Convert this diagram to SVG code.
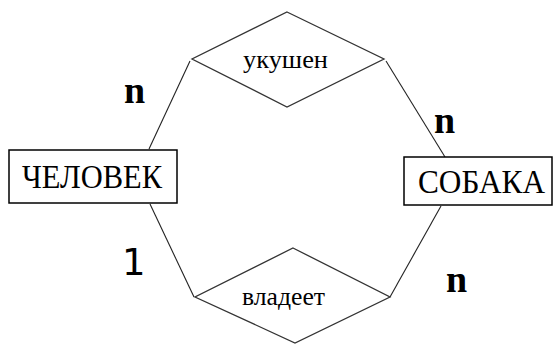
<svg xmlns="http://www.w3.org/2000/svg" width="556" height="347" viewBox="0 0 556 347">
<style>
.box{fill:#fff;stroke:#000;stroke-width:1.5}
.dia{fill:#fff;stroke:#333;stroke-width:1.3}
.ln{stroke:#222;stroke-width:1.1;fill:none}
.ent{font-family:"Liberation Serif",serif;font-size:34px;fill:#000}
.rel{font-family:"Liberation Serif",serif;font-size:25px;fill:#000}
.card{font-family:"Liberation Serif",serif;font-size:38px;font-weight:bold;fill:#000}
.one{font-family:"DejaVu Sans",sans-serif;font-size:37px;fill:#000}
</style>
<rect width="556" height="347" fill="#fff"/>
<g id="connectors">
<line class="ln" x1="190" y1="61" x2="149" y2="149"/>
<line class="ln" x1="386" y1="61" x2="445" y2="157"/>
<line class="ln" x1="150" y1="204" x2="194" y2="297"/>
<line class="ln" x1="441" y1="206" x2="390" y2="297"/>
</g>
<g id="chelovek">
<rect class="box" x="9" y="150" width="168" height="53"/>
<text class="ent" x="22" y="188" textLength="140" lengthAdjust="spacingAndGlyphs">ЧЕЛОВЕК</text>
</g>
<g id="sobaka">
<rect class="box" x="404" y="157" width="148" height="48"/>
<text class="ent" x="418" y="193" textLength="127" lengthAdjust="spacingAndGlyphs">СОБАКА</text>
</g>
<g id="ukushen">
<polygon class="dia" points="287,12 384,59 287,107 192,59"/>
<text class="rel" x="243" y="68" textLength="85" lengthAdjust="spacingAndGlyphs">укушен</text>
</g>
<g id="vladeet">
<polygon class="dia" points="293,248 390,297 295,343 195,297"/>
<text class="rel" x="242" y="305" textLength="83" lengthAdjust="spacingAndGlyphs">владеет</text>
</g>
<g id="cardinalities">
<text class="card" x="124" y="103">n</text>
<text class="card" x="434" y="133">n</text>
<text class="card" x="446" y="292">n</text>
<text class="one" x="122" y="275">1</text>
</g>
</svg>
